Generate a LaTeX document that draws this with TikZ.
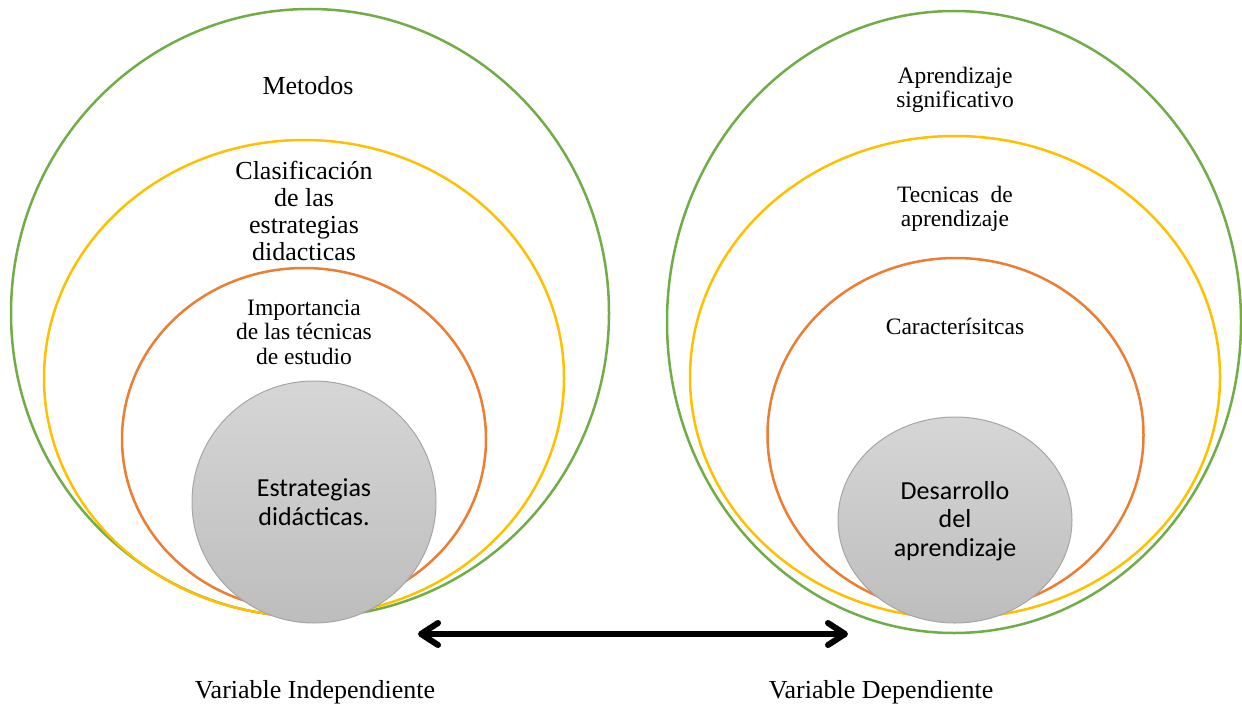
\documentclass[tikz,border=0pt]{standalone}
\usepackage{fontspec}
\setmainfont{Liberation Serif}
\newfontfamily\calibfont{Carlito}
\usetikzlibrary{arrows.meta}
\definecolor{ringgreen}{HTML}{70AD47}
\definecolor{ringyellow}{HTML}{FFC000}
\definecolor{ringorange}{HTML}{ED7D31}
\definecolor{coretop}{HTML}{D6D6D6}
\definecolor{corebot}{HTML}{BDBDBD}
\definecolor{coreline}{HTML}{A6A6A6}
\tikzset{
  ring/.style={line width=2.5pt},
  greenring/.style={ring, draw=ringgreen},
  yellowring/.style={ring, draw=ringyellow},
  orangering/.style={ring, draw=ringorange},
  core/.style={draw=coreline, line width=1pt, top color=coretop, bottom color=corebot},
  lblbig/.style={align=center, inner sep=0pt, font=\fontsize{26}{27.3}\selectfont},
  lblmid/.style={align=center, inner sep=0pt, font=\fontsize{23.5}{24.5}\selectfont},
  lblsans/.style={align=center, inner sep=0pt, font=\calibfont\fontsize{26}{28.5}\selectfont},
  biarrow/.style={line width=6pt,
    {Straight Barb[length=17pt,width=22pt,round]}-{Straight Barb[length=17pt,width=22pt,round]}}
}
\begin{document}
\begin{tikzpicture}[x=1pt,y=-1pt]
\useasboundingbox (0,0) rectangle (1242,706);
% left set
\draw[greenring] (310,313) ellipse [x radius=299pt, y radius=304pt];
\draw[yellowring] (304,378) ellipse [x radius=260pt, y radius=238pt];
\draw[orangering] (304,439) ellipse [x radius=182pt, y radius=171pt];
\path[core] (314,502) ellipse [x radius=122pt, y radius=121pt];
% right set
\draw[greenring] (954,322) ellipse [x radius=287pt, y radius=311pt];
\draw[yellowring] (955,377) ellipse [x radius=265pt, y radius=241pt];
\draw[orangering] (955.5,435) ellipse [x radius=188pt, y radius=177pt];
\path[core] (955,520) ellipse [x radius=117pt, y radius=103pt];
% left labels
\node[lblbig] (metodos) at (308,86) {Metodos};
\node[lblbig] (clasif) at (304,211) {Clasificación\\de las\\estrategias\\didacticas};
\node[lblmid] (importancia) at (304,332) {Importancia\\de las técnicas\\de estudio};
\node[lblsans] (estrategias) at (314,502) {Estrategias\\didácticas.};
% right labels
\node[lblmid] (aprsig) at (955,90) {Aprendizaje\\significativo};
\node[lblmid] (tecnicas) at (955,209) {Tecnicas\ \ de\\aprendizaje};
\node[lblmid] (caract) at (955,326) {Caracterísitcas};
\node[lblsans] (desarrollo) at (955,521) {Desarrollo\\del\\aprendizaje};
% arrow and captions
\coordinate (arrL) at (418,634);
\coordinate (arrR) at (848,634);
\draw[biarrow] (arrL) -- (arrR);
\node[lblbig] (varind) at (315,692) {Variable Independiente};
\node[lblbig] (vardep) at (881,692) {Variable Dependiente};
\end{tikzpicture}
\end{document}
